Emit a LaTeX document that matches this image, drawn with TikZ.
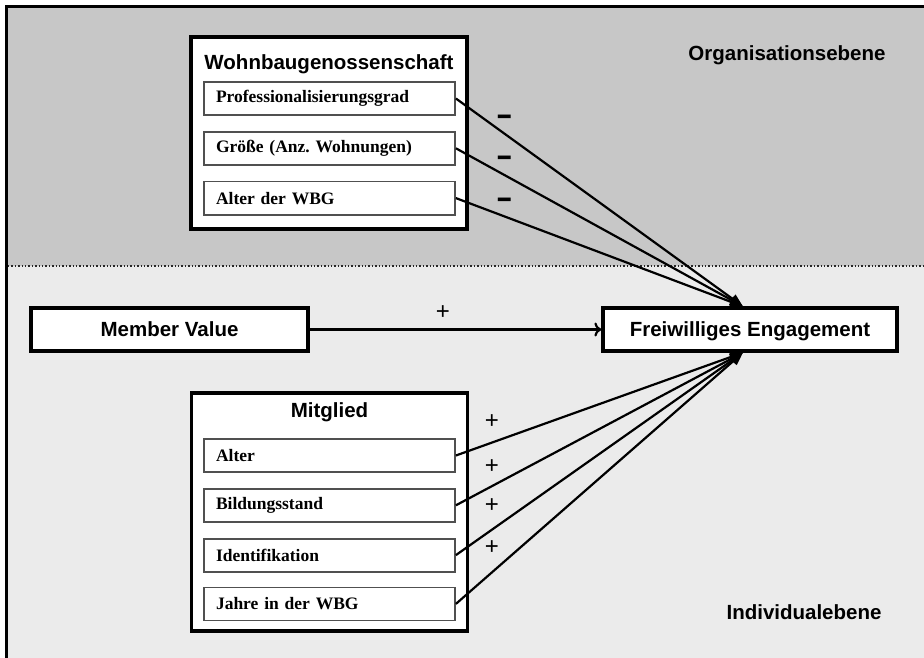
\documentclass[tikz,border=0pt]{standalone}
\usepackage{fontspec}
\setmainfont{Liberation Serif}
\setsansfont{Liberation Sans}
\usetikzlibrary{positioning}
\usetikzlibrary{arrows.meta}
\definecolor{orgbg}{RGB}{199,199,199}
\definecolor{indbg}{RGB}{235,235,235}
\definecolor{itemline}{RGB}{80,80,80}
\tikzset{
  groupbox/.style={draw=black, line width=3.2pt, fill=white, minimum width=276pt, inner sep=0pt},
  itembox/.style={draw=itemline, line width=1.8pt, fill=white, text width=227pt,
    inner xsep=12pt, inner ysep=0pt, minimum height=33pt, align=left,
    font=\rmfamily\bfseries\fontsize{17.5}{20}\selectfont},
  varbox/.style={draw=black, line width=3.2pt, fill=white, minimum height=43pt,
    text height=14.7pt, text depth=0pt,
    font=\sffamily\bfseries\fontsize{20.5}{24}\selectfont},
  boxtitle/.style={font=\sffamily\bfseries\fontsize{20.5}{24}\selectfont},
  sign/.style={font=\sffamily\fontsize{24}{26}\selectfont},
  minussign/.style={font=\sffamily\bfseries\fontsize{20}{24}\selectfont},
  effect/.style={line width=2.2pt, -{Triangle[length=13pt,width=10pt]}}
}

\begin{document}
\begin{tikzpicture}[x=1pt,y=-1pt]
   \useasboundingbox (0,0) rectangle (924,658);

   % ebenen
   \fill[orgbg] (8,8) rectangle (924,266);
   \fill[indbg] (8,266) rectangle (924,658);
   \draw[line width=3.5pt] (6.5,658) -- (6.5,6.5) -- (924,6.5);
   \draw[dotted, line width=1.4pt, black!85] (8,266) -- (924,266);
   \node[boxtitle] (org) at (787,55) {Organisationsebene};
   \node[boxtitle, anchor=east] (ind) at (885,612) {Individualebene};

   % Wohnbaugenossenschaft
   \node[groupbox, minimum height=192pt] (wbg) at (329,133) {};
   \node[boxtitle] (wbgt) at (329,64) {Wohnbaugenossenschaft};
   \node[itembox] (prof) at (329.5,98.5) {Professionalisierungsgrad};
   \node[itembox, below=15pt of prof] (groe) {Größe (Anz.\ Wohnungen)};
   \node[itembox, below=15pt of groe] (walt) {Alter der WBG};

   % Mitglied
   \node[groupbox, minimum height=238pt] (mit) at (329.5,512) {};
   \node[boxtitle] (mitt) at (329.5,412) {Mitglied};
   \node[itembox] (malt) at (329.5,455.5) {Alter};
   \node[itembox, below=15pt of malt] (bild) {Bildungsstand};
   \node[itembox, below=15pt of bild] (iden) {Identifikation};
   \node[itembox, below=14pt of iden] (jahr) {Jahre in der WBG};

   \node[varbox, minimum width=277pt] (mv) at (169.5,329.5) {Member Value};
   \node[varbox, minimum width=294pt] (fe) at (750,329.5) {Freiwilliges Engagement};

   \coordinate (fetop) at ([xshift=-7pt]fe.north);
   \coordinate (febot) at ([xshift=-7pt]fe.south);

   \draw[line width=2.2pt, -{To[length=7pt,width=14pt]}] (mv) -- (fe);
   \node[sign] (s0) at (443,313) {+};

   \foreach \v in {prof,groe,walt}
      \draw[effect] (\v.east) -- (fetop);
   \foreach \v in {malt,bild,iden,jahr}
      \draw[effect] (\v.east) -- (febot);

   \node[minussign] (n1) at (505,121) {\scalebox{1.3}[1.8]{–}};
   \node[minussign] (n2) at (505,162) {\scalebox{1.3}[1.8]{–}};
   \node[minussign] (n3) at (505,204) {\scalebox{1.3}[1.8]{–}};
   \node[sign] (p1) at (492,422) {+};
   \node[sign] (p2) at (492,467) {+};
   \node[sign] (p3) at (492,506) {+};
   \node[sign] (p4) at (492,548) {+};
\end{tikzpicture}
\end{document}
